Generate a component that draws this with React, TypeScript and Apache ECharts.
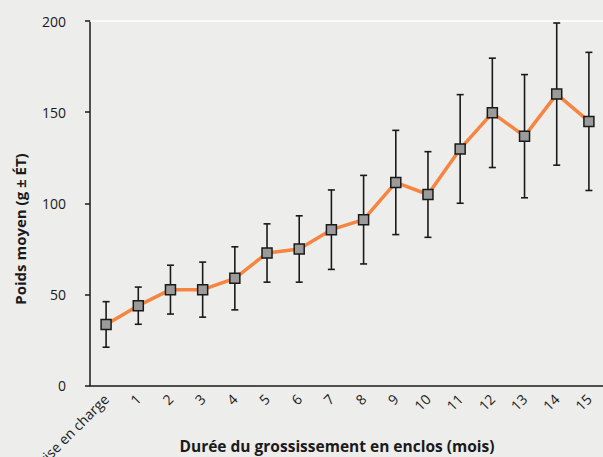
import React, { useEffect, useRef } from "react";
import * as echarts from "echarts";

const categories = ["Prise en charge", "1", "2", "3", "4", "5", "6", "7", "8", "9", "10", "11", "12", "13", "14", "15"];
const meanWeight = [33.5, 43.8, 52.6, 52.6, 58.8, 72.7, 74.9, 85.5, 91.0, 111.4, 104.8, 129.8, 149.6, 136.8, 159.9, 144.9];
const sdWeight = [12.5, 10.2, 13.4, 15.1, 17.3, 16.0, 18.2, 21.8, 24.3, 28.6, 23.5, 29.8, 30.0, 33.8, 39.0, 37.9];
const yTicks = { min: 0, max: 200, interval: 50 };
const xName = "Durée du grossissement en enclos (mois)";
const yName = "Poids moyen (g ± ÉT)";

const FONT = "'Open Sans', sans-serif";

export default function App() {
  const ref = useRef<HTMLDivElement>(null);
  useEffect(() => {
    if (!ref.current) return;
    const chart = echarts.init(ref.current, null, { renderer: "svg" });
    const errData = meanWeight.map((m, i) => [i, m + sdWeight[i], m - sdWeight[i]]);
    chart.setOption({
      animation: false,
      backgroundColor: "#ededeb",
      textStyle: { fontFamily: FONT },
      grid: { left: 90, top: 21, width: 515, bottom: 71.5, containLabel: false, outerBoundsMode: "none" },
      xAxis: [
        {
          type: "category",
          data: categories,
          boundaryGap: true,
          axisLine: { lineStyle: { color: "#1a1a1a", width: 1.5 } },
          axisTick: { alignWithLabel: true, length: 5, lineStyle: { color: "#1a1a1a", width: 1.5 } },
          axisLabel: { rotate: 45, margin: 11, color: "#1a1a1a", fontSize: 14, fontFamily: FONT, interval: 0 },
          splitLine: { show: false },
        },
        {
          type: "category",
          data: categories,
          position: "top",
          axisLine: { lineStyle: { color: "#ffffff", width: 1.5 } },
          axisTick: { show: false },
          axisLabel: { show: false },
        },
      ],
      yAxis: {
        type: "value",
        min: yTicks.min,
        max: yTicks.max,
        interval: yTicks.interval,
        axisLine: { show: true, lineStyle: { color: "#1a1a1a", width: 1.5 } },
        axisTick: { show: true, length: 5, lineStyle: { color: "#1a1a1a", width: 1.5 } },
        axisLabel: { margin: 24, color: "#1a1a1a", fontSize: 14, fontFamily: FONT },
        splitLine: { show: false },
      },
      graphic: [
        {
          type: "text",
          x: 337,
          y: 446,
          style: {
            text: xName,
            font: `bold 15.5px ${FONT}`,
            fill: "#1a1a1a",
            align: "center",
            verticalAlign: "middle",
          },
        },
        {
          type: "text",
          x: 20,
          y: 229,
          rotation: Math.PI / 2,
          style: {
            text: yName,
            font: `bold 15px ${FONT}`,
            fill: "#1a1a1a",
            align: "center",
            verticalAlign: "middle",
          },
        },
      ],
      series: [
        {
          type: "custom",
          z: 1,
          data: errData,
          renderItem: (params: any, api: any) => {
            const hi = api.coord([api.value(0), api.value(1)]);
            const lo = api.coord([api.value(0), api.value(2)]);
            const half = 3.5;
            const style = { stroke: "#1a1a1a", lineWidth: 1.6 };
            return {
              type: "group",
              children: [
                { type: "line", shape: { x1: hi[0], y1: hi[1], x2: lo[0], y2: lo[1] }, style },
                { type: "line", shape: { x1: hi[0] - half, y1: hi[1], x2: hi[0] + half, y2: hi[1] }, style },
                { type: "line", shape: { x1: lo[0] - half, y1: lo[1], x2: lo[0] + half, y2: lo[1] }, style },
              ],
            };
          },
        },
        {
          type: "line",
          z: 3,
          data: meanWeight,
          symbol: "rect",
          symbolSize: 10,
          showAllSymbol: true,
          lineStyle: { color: "#f58540", width: 3.5 },
          itemStyle: { color: "#9b9b9b", borderColor: "#1a1a1a", borderWidth: 1.5 },
        },
      ],
    });
    return () => chart.dispose();
  }, []);
  return <div ref={ref} style={{ position: "fixed", left: 0, top: 0, width: 603, height: 457 }} />;
}
